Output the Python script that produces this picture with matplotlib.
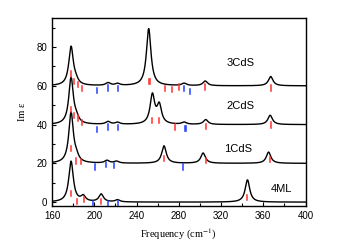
import numpy as np
import matplotlib
matplotlib.use("Agg")
import matplotlib.pyplot as plt
from matplotlib.ticker import MultipleLocator

plt.rcParams["mathtext.fontset"] = "stix"

# spectra: peak centres (cm-1), peak heights, vertical offset
labels = ["4ML", "1CdS", "2CdS", "3CdS"]
offsets = [0, 20, 40, 60]
centres = [
    [178, 189.5, 206.5, 222, 345],
    [178, 183, 212, 221, 266, 303, 365],
    [178, 183, 213, 222, 255, 261.5, 285, 305.5, 366.5],
    [178, 182.5, 213, 222, 251.5, 285, 305, 367],
]
heights = [
    [21.0, 2.8, 4.0, 1.1, 11.5],
    [26.0, 2.3, 1.4, 1.0, 9.0, 5.3, 5.8],
    [24.0, 2.3, 1.4, 1.0, 15.0, 9.5, 1.1, 2.5, 4.8],
    [20.0, 1.8, 1.4, 1.0, 29.5, 1.2, 2.4, 4.8],
]

# mode markers: frequency, bottom level relative to baseline
red_freq = [
    [178, 184, 190, 206.5, 345],
    [178, 183, 187, 266, 305.5, 366],
    [178, 181, 185, 188.5, 255, 261, 276, 305.5, 367],
    [178, 181, 185, 188.5, 251.4, 253, 266.6, 273.5, 280, 305, 367.5],
]
red_lvl = [
    [3.1, -1.2, 0.1, -1.2, 1.0],
    [6.2, -0.2, -0.5, 1.0, 0.0, 0.5],
    [6.4, 3.4, 1.9, -0.2, 0.7, 0.7, -2.7, -2.4, -1.5],
    [4.6, 0.7, -0.8, -2.7, 0.7, 0.7, -2.7, -3.4, -2.1, -2.0, -2.5],
]
blue_freq = [
    [198.3, 213.4, 222.3],
    [200.8, 211.2, 219.1, 283.6],
    [203, 213, 222, 285.5, 287],
    [203, 213.4, 222.9, 285.2, 291],
]
blue_lvl = [
    [-2.0, -2.0, -2.0],
    [-3.2, -2.0, -2.5, -3.2],
    [-3.9, -2.6, -2.9, -3.5, -3.5],
    [-3.9, -2.6, -2.9, -2.7, -4.4],
]
label_pos = [(377, 7), (336.5, 27.4), (338.3, 49.6), (338.3, 71.6)]

x = np.linspace(160, 400, 3000)
gamma = 2.6

fig = plt.figure(figsize=(3.38, 2.5), dpi=100)
ax = fig.add_axes([0.154, 0.176, 0.75, 0.752])

for k in range(4):
    y = np.full_like(x, offsets[k], dtype=float)
    for c, h in zip(centres[k], heights[k]):
        y += h * gamma**2 / ((x - c)**2 + gamma**2)
    ax.plot(x, y, color="black", lw=1.0, zorder=2)
    for f, lv in zip(red_freq[k], red_lvl[k]):
        ax.plot([f, f], [offsets[k] + lv, offsets[k] + lv + 2.8], color="#ff3030", lw=1.1, zorder=3)
    for f, lv in zip(blue_freq[k], blue_lvl[k]):
        ax.plot([f, f], [offsets[k] + lv, offsets[k] + lv + 2.8], color="#2040ff", lw=1.1, zorder=3)
    ax.text(label_pos[k][0], label_pos[k][1], labels[k], fontsize=8, ha="center", va="center",
            family="Liberation Sans")

ax.set_xlim(160, 400)
ax.set_ylim(-2, 95)
ax.xaxis.set_major_locator(MultipleLocator(40))
ax.xaxis.set_minor_locator(MultipleLocator(20))
ax.yaxis.set_major_locator(MultipleLocator(20))
ax.yaxis.set_minor_locator(MultipleLocator(10))
ax.tick_params(which="both", direction="in", labelsize=7, width=0.8)
ax.tick_params(which="major", length=3)
ax.tick_params(which="minor", length=2)
for lab in ax.get_xticklabels() + ax.get_yticklabels():
    lab.set_family("Liberation Sans")
for s in ax.spines.values():
    s.set_linewidth(1.0)

ax.set_xlabel("Frequency (cm$^{\\mathrm{-1}}$)", family="Liberation Serif", fontsize=7.5, labelpad=4)
ax.set_ylabel("Im ε", family="Liberation Serif", fontsize=7.5, labelpad=7)

fig.savefig("out.png", dpi=100)
